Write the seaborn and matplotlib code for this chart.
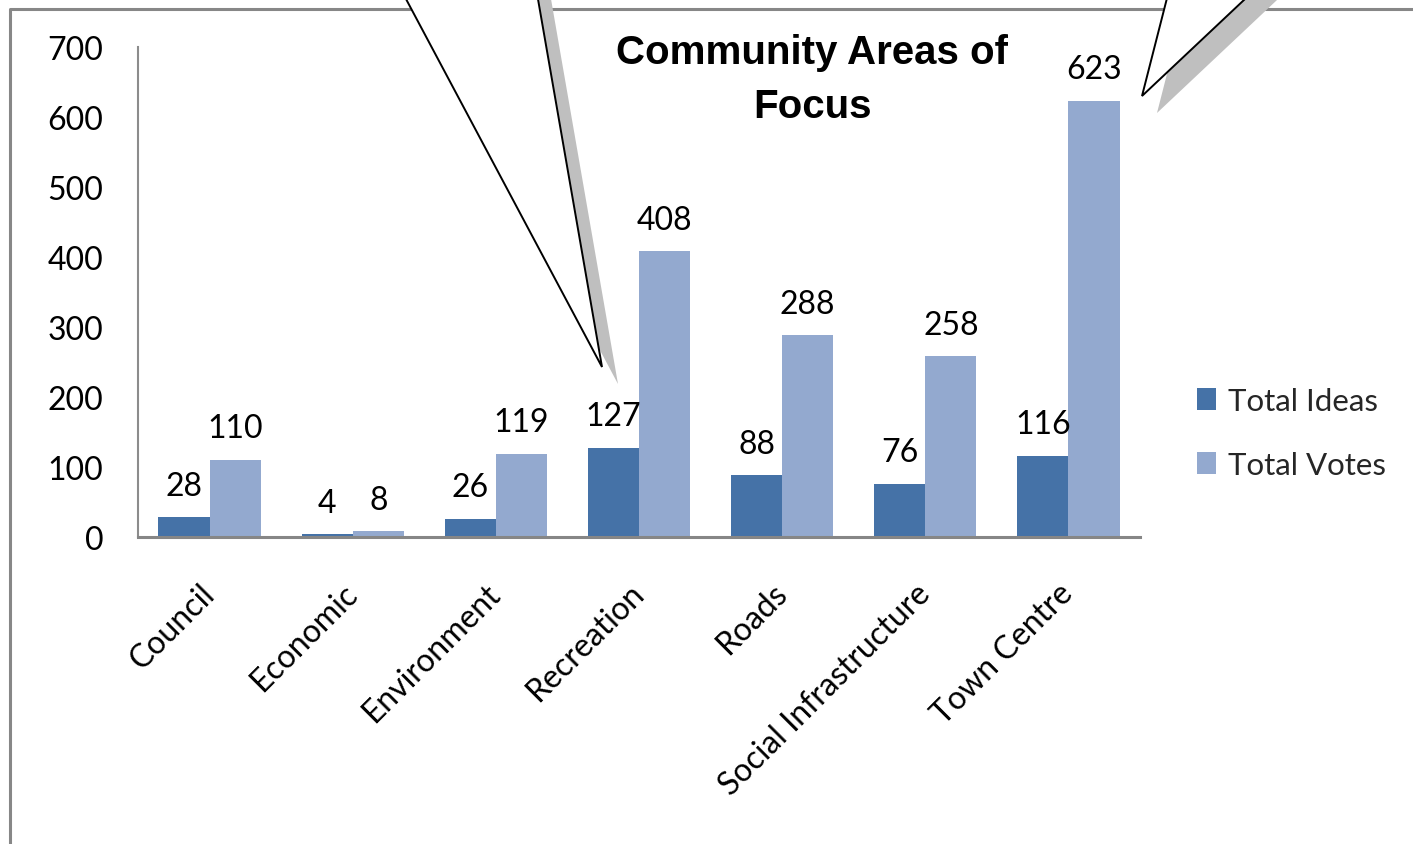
import numpy as np
import pandas as pd
import matplotlib
matplotlib.use("Agg")
import matplotlib.pyplot as plt
import seaborn as sns
from matplotlib import font_manager
from matplotlib.patches import Polygon, Patch
from matplotlib.lines import Line2D

# ---------------- data ----------------
categories = ["Council", "Economic", "Environment", "Recreation", "Roads",
              "Social Infrastructure", "Town Centre"]
total_ideas = [28, 4, 26, 127, 88, 76, 116]
total_votes = [110, 8, 119, 408, 288, 258, 623]
series_names = ["Total Ideas", "Total Votes"]
y_ticks = [0, 100, 200, 300, 400, 500, 600, 700]
title_text = "Community Areas of\nFocus"

# ---------------- style ----------------
sns.set_theme(style="white")
plt.rcParams["font.family"] = ["Lato", "DejaVu Sans"]

names = {f.name for f in font_manager.fontManager.ttflist}
if "Liberation Sans Narrow" in names:
    title_family = ["Liberation Sans Narrow", "DejaVu Sans"]
    title_size = 33
else:
    title_family = ["Liberation Sans", "DejaVu Sans"]
    title_size = 29

W, H = 1413, 845
fig = plt.figure(figsize=(W / 100, H / 100), dpi=100)
fig.patch.set_facecolor("white")


def px(x, y):
    return (x / W, 1 - y / H)


ax = fig.add_axes([138 / W, 1 - 538 / H, (1140 - 138) / W, (538 - 48) / H])
ax.patch.set_alpha(0)

df = pd.DataFrame({
    "Category": categories * 2,
    "Series": [series_names[0]] * len(categories) + [series_names[1]] * len(categories),
    "Value": total_ideas + total_votes,
})
colors = ["#4572A7", "#93A9CF"]
sns.barplot(data=df, x="Category", y="Value", hue="Series", palette=colors,
            width=0.714, gap=0, saturation=1, errorbar=None, legend=False,
            linewidth=0, ax=ax)

for cont in ax.containers:
    ax.bar_label(cont, padding=12, fontsize=23, color="black")

ax.set_ylim(0, 700)
ax.set_xlim(-0.5, len(categories) - 0.5)
ax.set_yticks(y_ticks)
ax.set_xlabel("")
ax.set_ylabel("")
ax.tick_params(axis="y", length=0, pad=25, labelsize=23, labelcolor="black")
ax.tick_params(axis="x", length=0, pad=37, labelsize=23, labelcolor="black")
for lab in ax.get_xticklabels():
    lab.set_rotation(45)
    lab.set_ha("right")
    lab.set_va("center")
    lab.set_rotation_mode("anchor")

for s in ["top", "right"]:
    ax.spines[s].set_visible(False)
ax.spines["left"].set_color("#8C8C8C")
ax.spines["left"].set_linewidth(1.5)
ax.spines["bottom"].set_color("#868686")
ax.spines["bottom"].set_linewidth(2.2)

# legend
handles = [Patch(facecolor=c, edgecolor="none") for c in colors]
ax.legend(handles, series_names, loc="center left",
          bbox_to_anchor=px(1197, 434), bbox_transform=fig.transFigure,
          frameon=False, fontsize=22.5, handlelength=0.6, handleheight=0.7,
          handletextpad=0.4, labelspacing=1.15, borderpad=0, borderaxespad=0)

# title
fig.text(*px(812, 80), title_text, ha="center", va="center",
         fontsize=title_size, fontweight="bold", family=title_family,
         linespacing=1.55, color="black", zorder=6)

# outer frame
fig.add_artist(Line2D([10 / W, 10 / W, 1.0], [0.0, 1 - 10 / H, 1 - 10 / H],
                      transform=fig.transFigure, color="#878787", lw=2.2, zorder=3))

# callout pointers (decorations)
def callout(pts, off):
    sh = [px(x + off[0], y + off[1]) for x, y in pts]
    fig.add_artist(Polygon(sh, closed=True, transform=fig.transFigure,
                           facecolor="#BFBFBF", edgecolor="none", zorder=4))
    fig.add_artist(Polygon([px(x, y) for x, y in pts], closed=True,
                           transform=fig.transFigure, facecolor="white",
                           edgecolor="black", lw=1.4, zorder=5))

callout([(384.7, -40), (602, 368), (531, -40)], (16, 17))
callout([(1177, -40), (1142, 97), (1287.5, -40)], (15, 17))

fig.savefig("out.png", dpi=100, facecolor="white")
